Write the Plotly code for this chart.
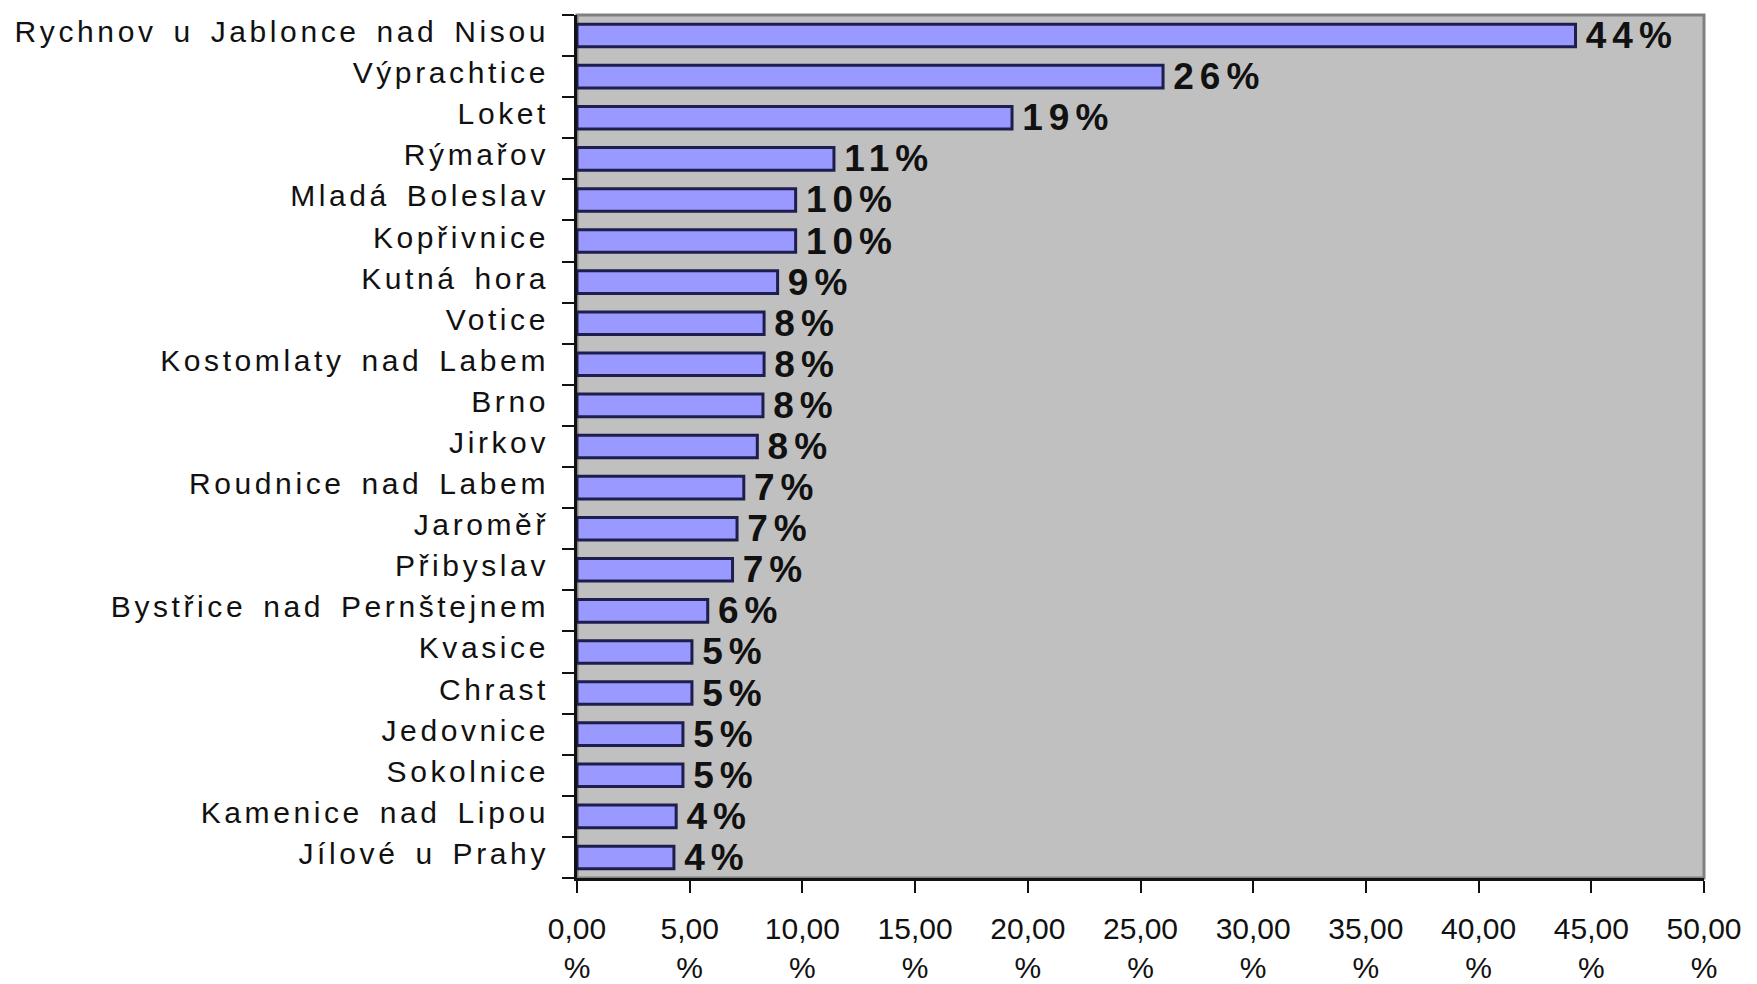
import plotly.graph_objects as go

categories = [
    "Rychnov u Jablonce nad Nisou", "Výprachtice", "Loket", "Rýmařov",
    "Mladá Boleslav", "Kopřivnice", "Kutná hora", "Votice",
    "Kostomlaty nad Labem", "Brno", "Jirkov", "Roudnice nad Labem",
    "Jaroměř", "Přibyslav", "Bystřice nad Pernštejnem", "Kvasice",
    "Chrast", "Jedovnice", "Sokolnice", "Kamenice nad Lipou", "Jílové u Prahy",
]
values = [44.3, 26.0, 19.3, 11.4, 9.7, 9.7, 8.9, 8.3, 8.3, 8.25, 8.0,
          7.4, 7.1, 6.9, 5.8, 5.1, 5.1, 4.7, 4.7, 4.4, 4.3]
x_ticks = [0, 5, 10, 15, 20, 25, 30, 35, 40, 45, 50]

bar_text = [f'<span style="font-size:26px"> </span>'
            f'<span style="letter-spacing:6px">{round(v)}%</span>' for v in values]
y_ticktext = [f'<span style="letter-spacing:3.6px;word-spacing:5px">{c}</span>'
              for c in categories]
x_ticktext = [f"{t:.2f}".replace(".", ",") + "<br>%" for t in x_ticks]

fig = go.Figure(go.Bar(
    x=values, y=categories, orientation="h",
    marker=dict(color="#9999ff", line=dict(color="#1e1e4e", width=3)),
    width=0.55,
    text=bar_text, textposition="outside", constraintext="none",
    cliponaxis=False,
    textfont=dict(family="Liberation Sans", size=37, color="#111111", weight="bold"),
    hoverinfo="skip",
))

fig.update_layout(
    width=1757, height=984,
    margin=dict(l=577, r=53, t=15, b=106),
    paper_bgcolor="white", plot_bgcolor="#c0c0c0",
    showlegend=False,
    font=dict(family="Liberation Sans", size=30, color="#111111"),
    shapes=[dict(type="rect", xref="x domain", yref="y domain", x0=0, x1=1, y0=0, y1=1,
                 line=dict(color="#808080", width=3), layer="below")],
)
fig.update_xaxes(
    range=[0, 50], tickvals=x_ticks, ticktext=x_ticktext,
    automargin=False,
    showgrid=False, zeroline=False,
    showline=True, linecolor="#111111", linewidth=3,
    ticks="outside", ticklen=12, tickwidth=2, tickcolor="#111111",
    tickfont=dict(size=30), ticklabelstandoff=10,
)
fig.update_yaxes(
    autorange="reversed", tickvals=categories, ticktext=y_ticktext,
    automargin=False, tickson="boundaries",
    showgrid=False, zeroline=False,
    showline=True, linecolor="#111111", linewidth=3,
    ticks="outside", ticklen=12, tickwidth=2, tickcolor="#111111",
    tickfont=dict(size=30), ticklabelstandoff=19, ticklabelshift=4,
)

fig.write_html("out.html", config={"displayModeBar": False},
               post_script="document.body.style.margin='0';")
